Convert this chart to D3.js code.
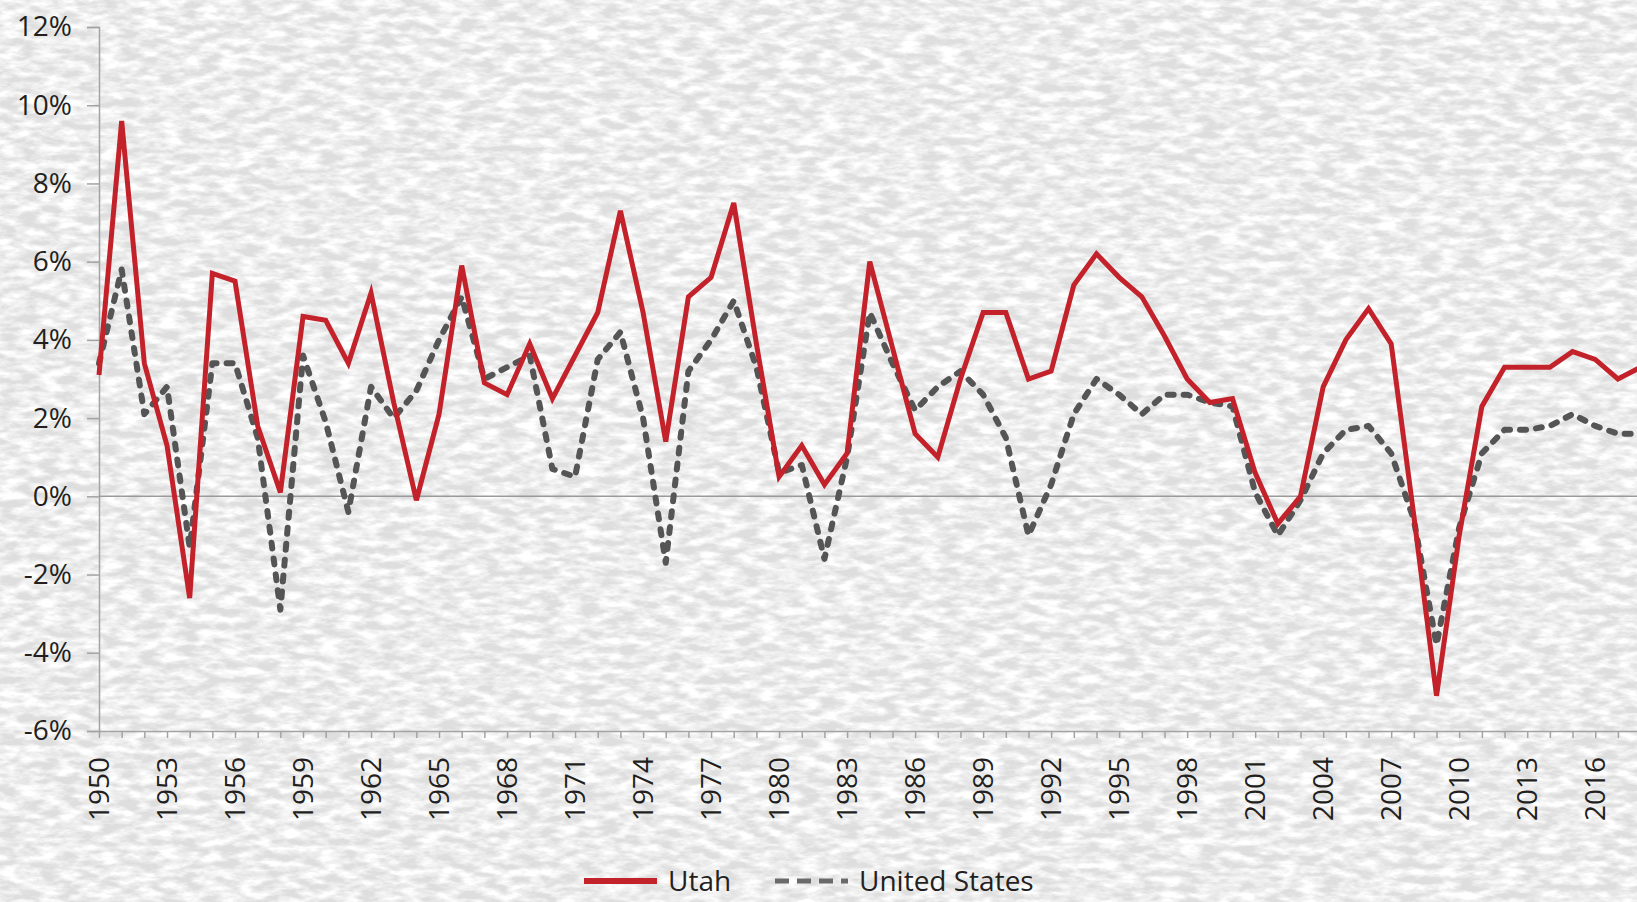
<!DOCTYPE html>
<html>
<head>
<meta charset="utf-8">
<script src="https://cdn.jsdelivr.net/npm/d3@7/dist/d3.min.js"></script>
<style>
  html, body { margin: 0; padding: 0; background: #e3e3e3; }
  svg { display: block; }
  text { font-family: "Open Sans", "Noto Sans", sans-serif; fill: #231f20; }
</style>
</head>
<body>
<div id="growth-chart"></div>
<script>
// annual growth rate, percent
var years = d3.range(1950, 2019);

var utah = [3.1, 9.6, 3.4, 1.3, -2.6, 5.7, 5.5, 1.8, 0.1, 4.6,
            4.5, 3.4, 5.2, 2.4, -0.1, 2.1, 5.9, 2.9, 2.6, 3.9,
            2.5, 3.6, 4.7, 7.3, 4.7, 1.4, 5.1, 5.6, 7.5, 3.9,
            0.5, 1.3, 0.3, 1.1, 6.0, 3.8, 1.6, 1.0, 3.0, 4.7,
            4.7, 3.0, 3.2, 5.4, 6.2, 5.6, 5.1, 4.1, 3.0, 2.4,
            2.5, 0.6, -0.7, 0.0, 2.8, 4.0, 4.8, 3.9, -0.5, -5.1,
            -1.0, 2.3, 3.3, 3.3, 3.3, 3.7, 3.5, 3.0, 3.3];

var unitedStates = [3.4, 5.8, 2.1, 2.8, -1.3, 3.4, 3.4, 1.5, -2.9, 3.6,
                    1.9, -0.4, 2.8, 2.0, 2.7, 4.0, 5.1, 3.0, 3.3, 3.6,
                    0.7, 0.5, 3.5, 4.2, 2.0, -1.7, 3.2, 4.0, 5.0, 3.3,
                    0.6, 0.8, -1.6, 1.0, 4.7, 3.4, 2.2, 2.8, 3.2, 2.6,
                    1.5, -1.0, 0.3, 2.1, 3.0, 2.6, 2.1, 2.6, 2.6, 2.4,
                    2.3, 0.1, -1.0, -0.1, 1.1, 1.7, 1.8, 1.1, -0.6, -3.8,
                    -0.8, 1.1, 1.7, 1.7, 1.8, 2.1, 1.8, 1.6, 1.6];

var yTicks = [-6, -4, -2, 0, 2, 4, 6, 8, 10, 12];
var xLabelYears = years.filter(function(yr) { return (yr - 1950) % 3 == 0 && yr <= 2016; });
var seriesNames = ["Utah", "United States"];

var width = 1637, height = 902;
var margin = { top: 27, left: 99, bottom: 171 };

var svg = d3.select("#growth-chart").append("svg")
  .attr("width", width)
  .attr("height", height);

// paper texture
var defs = svg.append("defs");
var paper = defs.append("filter").attr("id", "paper")
  .attr("x", 0).attr("y", 0).attr("width", "100%").attr("height", "100%");
paper.append("feTurbulence")
  .attr("type", "fractalNoise")
  .attr("baseFrequency", "0.05 0.13")
  .attr("numOctaves", 4)
  .attr("seed", 7);
paper.append("feColorMatrix")
  .attr("type", "matrix")
  .attr("values", "0 0 0 0 1  0 0 0 0 1  0 0 0 0 1  2.6 0 0 0 -0.85");

svg.append("rect").attr("width", width).attr("height", height).attr("fill", "#dedede");
svg.append("rect").attr("width", width).attr("height", height).attr("filter", "url(#paper)");

var x = d3.scaleLinear().domain([1950, 2018]).range([margin.left, margin.left + 68 * 22.67]);
var y = d3.scaleLinear().domain([-6, 12]).range([height - margin.bottom, margin.top]);

// Y axis
var yAxis = svg.append("g")
  .attr("transform", "translate(" + margin.left + ",0)")
  .call(d3.axisLeft(y).tickValues(yTicks).tickSize(12).tickPadding(15)
    .tickFormat(function(d) { return d + "%"; }));
yAxis.select(".domain").attr("stroke", "#a3a3a3").attr("stroke-width", 1.5);
yAxis.selectAll(".tick line").attr("stroke", "#a3a3a3").attr("stroke-width", 1.5);
yAxis.selectAll("text")
  .style("font-size", "28px")
  .style("font-family", "'Open Sans', sans-serif")
  .attr("fill", "#231f20");

// X axis, a tick every year
var xAxis = svg.append("g")
  .attr("transform", "translate(0," + y(-6) + ")")
  .call(d3.axisBottom(x).tickValues(years).tickSize(7).tickSizeOuter(0).tickFormat(""));
xAxis.select(".domain").attr("stroke", "#a3a3a3").attr("stroke-width", 1.5);
xAxis.selectAll(".tick line").attr("stroke", "#a3a3a3").attr("stroke-width", 1.5);

svg.append("g").selectAll("text")
  .data(xLabelYears)
  .enter().append("text")
  .attr("transform", function(d) { return "translate(" + x(d) + "," + (y(-6) + 26) + ") rotate(-90)"; })
  .attr("text-anchor", "end")
  .attr("dy", "0.35em")
  .style("font-size", "28px")
  .text(function(d) { return d; });

// zero line
svg.append("line")
  .attr("x1", margin.left).attr("x2", width)
  .attr("y1", y(0)).attr("y2", y(0))
  .attr("stroke", "#9a9a9a")
  .attr("stroke-width", 1.5);

var line = d3.line()
  .x(function(d, i) { return x(years[i]); })
  .y(function(d) { return y(d); });

svg.append("path")
  .datum(unitedStates)
  .attr("d", line)
  .attr("fill", "none")
  .attr("stroke", "#555555")
  .attr("stroke-width", 6)
  .attr("stroke-dasharray", "6,10")
  .attr("stroke-linecap", "round")
  .attr("stroke-linejoin", "round");

svg.append("path")
  .datum(utah)
  .attr("d", line)
  .attr("fill", "none")
  .attr("stroke", "#c3222b")
  .attr("stroke-width", 5)
  .attr("stroke-linejoin", "miter");

// legend
var legendX = [584, 775];
var legend = svg.append("g").selectAll("g")
  .data(seriesNames)
  .enter().append("g")
  .attr("transform", function(d, i) { return "translate(" + legendX[i] + ",881)"; });

legend.append("line")
  .attr("x1", 0).attr("x2", 73)
  .attr("stroke", function(d, i) { return i == 0 ? "#c3222b" : "#6a6a6a"; })
  .attr("stroke-width", function(d, i) { return i == 0 ? 6 : 5; })
  .attr("stroke-dasharray", function(d, i) { return i == 0 ? null : "14,8"; });

legend.append("text")
  .attr("x", 84)
  .attr("dy", "0.36em")
  .style("font-size", "28px")
  .text(function(d) { return d; });
</script>
</body>
</html>
